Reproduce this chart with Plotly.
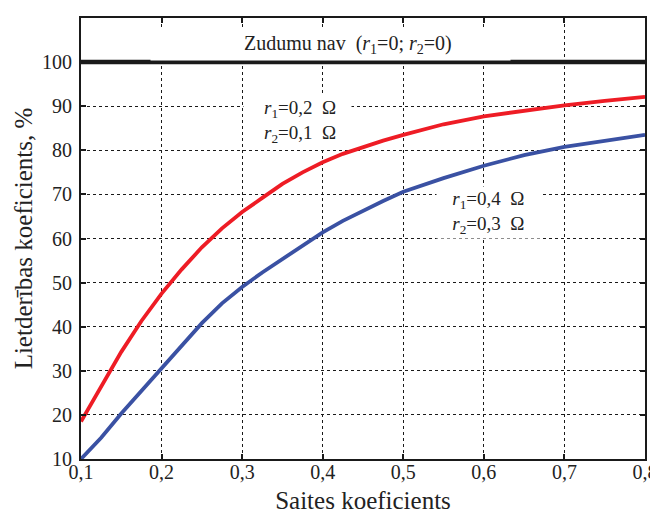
import plotly.graph_objects as go

x_vals = [0.1, 0.125, 0.15, 0.175, 0.2, 0.225, 0.25, 0.275, 0.3, 0.325, 0.35, 0.375, 0.4,
          0.425, 0.45, 0.475, 0.5, 0.55, 0.6, 0.65, 0.7, 0.75, 0.8]
red_vals = [18.5, 26.5, 34.3, 41.3, 47.5, 53, 58, 62.3, 66, 69.2, 72.4, 75, 77.3,
            79.2, 80.8, 82.2, 83.5, 85.9, 87.7, 89, 90.2, 91.2, 92.1]
blue_vals = [10, 14.8, 20.3, 25.5, 30.6, 35.6, 40.8, 45.3, 49, 52.3, 55.3, 58.5, 61.4,
             64, 66.3, 68.5, 70.6, 73.7, 76.5, 78.9, 80.8, 82.2, 83.5]
ideal_x = [0.1, 0.8]
ideal_vals = [100, 100]

x_ticks = [0.1, 0.2, 0.3, 0.4, 0.5, 0.6, 0.7, 0.8]
x_tick_labels = ["0,1", "0,2", "0,3", "0,4", "0,5", "0,6", "0,7", "0,8"]
y_ticks = [10, 20, 30, 40, 50, 60, 70, 80, 90, 100, 110]

FONT = "Liberation Serif"
NB = "\u00a0"

fig = go.Figure()
fig.add_trace(go.Scatter(x=ideal_x, y=ideal_vals, mode="lines",
                         line=dict(color="#1a1a1a", width=4.5), showlegend=False))
fig.add_trace(go.Scatter(x=x_vals, y=red_vals, mode="lines",
                         line=dict(color="#ee1c25", width=3.8), showlegend=False))
fig.add_trace(go.Scatter(x=x_vals, y=blue_vals, mode="lines",
                         line=dict(color="#3a51a3", width=3.8), showlegend=False))

anns = [
    dict(x=0.41, y=104.0, size=20, pad=3,
         text=NB * 18 + "Zudumu nav  (<i>r</i><sub>1</sub>=0; <i>r</i><sub>2</sub>=0)" + NB * 11),
    dict(x=0.369, y=86.5, size=19, pad=1,
         text=NB * 4 + "<i>r</i><sub>1</sub>=0,2  Ω" + NB * 3 + "<br>" +
              NB * 4 + "<i>r</i><sub>2</sub>=0,1  Ω" + NB * 3),
    dict(x=0.606, y=65.9, size=19, pad=1,
         text=NB * 3 + "<i>r</i><sub>1</sub>=0,4  Ω" + NB * 3 + "<br>" +
              NB * 3 + "<i>r</i><sub>2</sub>=0,3  Ω" + NB * 3),
]
for a in anns:
    fig.add_annotation(x=a["x"], y=a["y"], text=a["text"], showarrow=False,
                       font=dict(family=FONT, size=a["size"], color="#222"),
                       bgcolor="white", borderpad=a["pad"],
                       xanchor="center", yanchor="middle", align="center")

axis_common = dict(
    showline=True, linecolor="#1a1a1a", linewidth=2, mirror="allticks",
    ticks="inside", ticklen=5, tickwidth=1.5, tickcolor="#1a1a1a",
    showgrid=True, gridcolor="#1a1a1a", gridwidth=1, griddash="dot",
    zeroline=False, automargin=False,
    tickfont=dict(family=FONT, size=20, color="#222"),
)

fig.update_xaxes(range=[0.1, 0.8], tickvals=x_ticks, ticktext=x_tick_labels,
                 ticklabelstandoff=-6,
                 title=dict(text="Saites koeficients", font=dict(family=FONT, size=25, color="#222"),
                            standoff=12),
                 **axis_common)
fig.update_yaxes(range=[10, 110], tickvals=y_ticks,
                 ticklabelstandoff=3,
                 title=dict(text="Lietderības koeficients, %", font=dict(family=FONT, size=25, color="#222"),
                            standoff=2),
                 **axis_common)

# page body has an 8px default margin, so the figure is 8px smaller and margins shifted
fig.update_layout(
    width=650, height=506,
    margin=dict(l=73, r=13, t=10, b=55),
    plot_bgcolor="white", paper_bgcolor="white",
    font=dict(family=FONT),
)

fig.write_html("out.html")
